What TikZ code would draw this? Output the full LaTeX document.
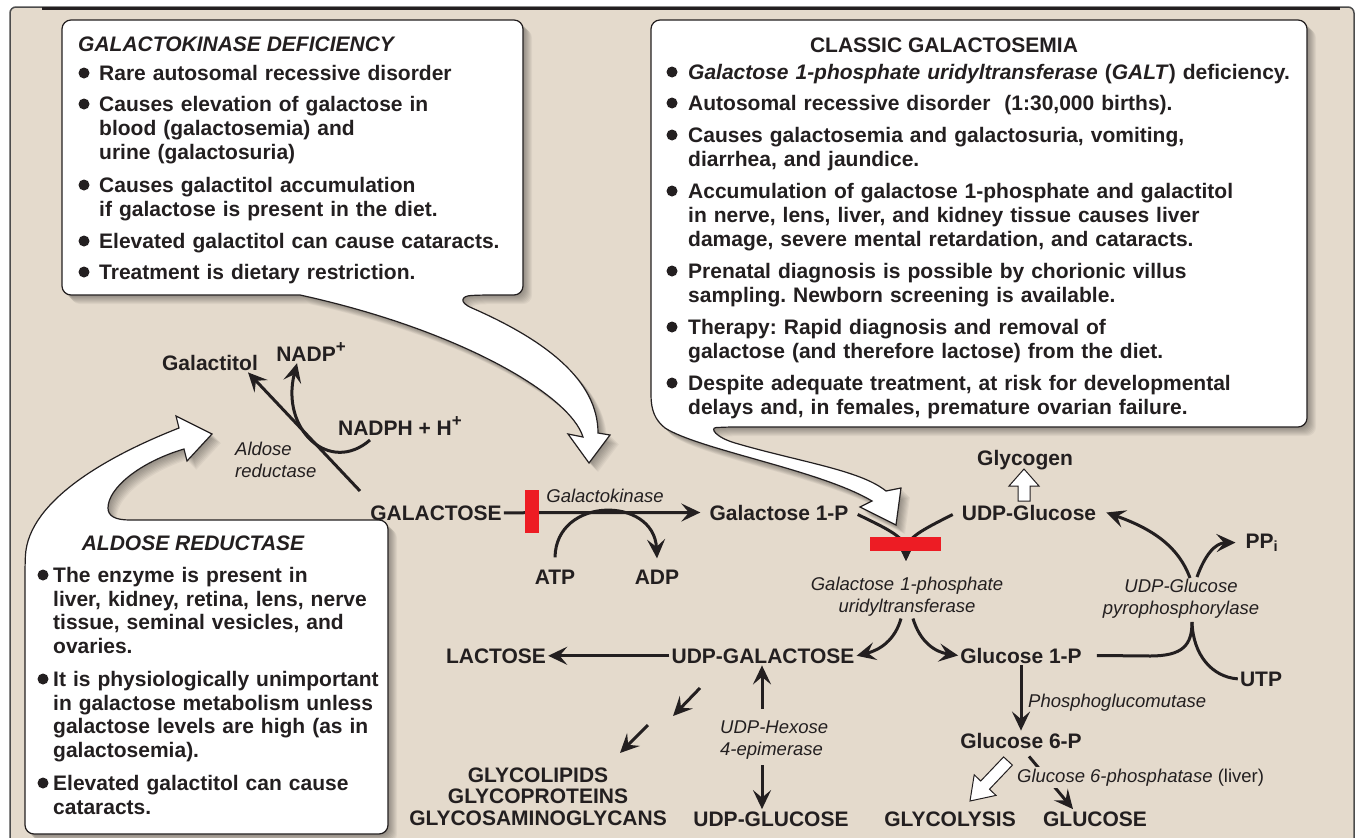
\documentclass[tikz,border=0pt]{standalone}
\usepackage{fontspec}
\setmainfont{Liberation Sans}
\usetikzlibrary{arrows.meta}
\frenchspacing

\definecolor{ink}{HTML}{231F20}
\definecolor{sand}{HTML}{E4DACC}
\definecolor{stopred}{HTML}{ED1C24}

\newcommand{\plus}{\raisebox{0.42em}{\fontsize{17}{17}\selectfont+}}

\tikzset{
  lbl/.style={anchor=base, inner sep=2pt, text=ink, font=\fontsize{21}{21.5}\selectfont\bfseries},
  enz/.style={anchor=base, inner sep=2pt, text=ink, font=\fontsize{18.5}{22.5}\selectfont\itshape},
  itm/.style={anchor=base west, inner sep=0pt, align=left, text=ink, font=\fontsize{21}{24}\selectfont\bfseries},
  arr/.style={draw=ink, line width=3pt, -{Stealth[length=19pt,width=18pt,inset=7.5pt]}},
  pln/.style={draw=ink, line width=3pt},
  redbar/.style={fill=stopred, inner sep=0pt},
  bubble/.style={fill=white, draw=ink, line width=1.2pt},
  blockarr/.style={fill=white, draw=ink, line width=1pt},
}

% callout outlines (box + tail)
\newcommand{\kinbubble}{[rounded corners=9pt] (62,160) -- (62,20) -- (523,20) -- (523,295) -- (480,295)
  [sharp corners] .. controls (462,296) and (458,302) .. (472,308) .. controls (545,340) and (598,380) .. (598,433)
  -- (610,435) -- (589,463) -- (568,434) -- (583,437) .. controls (570,395) and (460,330) .. (300,295)
  [rounded corners=9pt] -- (62,295) -- cycle}
\newcommand{\galtbubble}{[rounded corners=9pt] (651,200) -- (651,20) -- (1307,20) -- (1307,427) -- (725,427)
  [sharp corners] .. controls (710,428) and (715,437) .. (735,443) .. controls (800,462) and (860,470) .. (886,491)
  -- (901,488) -- (896,525) -- (860,507) -- (872,501) .. controls (820,470) and (700,450) .. (665,428)
  .. controls (655,420) and (651,410) .. (651,395) -- cycle}
\newcommand{\aldbubble}{[rounded corners=9pt] (200,520) -- (388,520) -- (388,834) -- (25,834) -- (25,565)
  [sharp corners] .. controls (28,500) and (110,455) .. (179,428) -- (176,416) -- (212,434) -- (187,461)
  -- (184,449) .. controls (140,462) and (108,488) .. (108,508) .. controls (108,516) and (115,520) .. (130,520) -- cycle}

\begin{document}
\begin{tikzpicture}[x=1pt,y=-1pt]
  \useasboundingbox (0,0) rectangle (1363,838);
  % frame
  \fill[sand, rounded corners=6pt] (10,7) rectangle (1354,870);
  \draw[gray!60!black, line width=1.5pt, rounded corners=6pt] (10,870) -- (10,7) -- (1354,7) -- (1354,870);
  \draw[ink, line width=3pt] (42,8) -- (1340,8);

  % callouts with soft shadow
  \foreach \s in {1,...,9}{
    \fill[black, opacity=0.045, xshift=\s pt, yshift=-\s pt] \kinbubble;
    \fill[black, opacity=0.045, xshift=\s pt, yshift=-\s pt] \galtbubble;
    \fill[black, opacity=0.045, xshift=\s pt, yshift=-\s pt] \aldbubble;
  }
  \path[bubble] \kinbubble;
  \path[bubble] \galtbubble;
  \path[bubble] \aldbubble;

  % galactokinase deficiency
  \node[itm, font=\fontsize{21}{24}\selectfont\bfseries\itshape] (kintitle) at (78,51.5) {GALACTOKINASE DEFICIENCY};
  \foreach \y/\t [count=\i] in {80.5/{Rare autosomal recessive disorder},
      111.5/{Causes elevation of galactose in\\blood (galactosemia) and\\urine (galactosuria)},
      192.5/{Causes galactitol accumulation\\if galactose is present in the diet.},
      248.5/{Elevated galactitol can cause cataracts.},
      279.5/{Treatment is dietary restriction.}}{
    \fill[ink] (84,\y-7.5) circle (5.5pt);
    \node[itm, text width=420] (kin\i) at (99,\y) {\t};
  }

  % classic galactosemia
  \node[lbl] (clstitle) at (944,52.5) {CLASSIC GALACTOSEMIA};
  \foreach \y/\t [count=\i] in {79.5/{\textit{Galactose 1-phosphate uridyltransferase} (\textit{GALT}) deficiency.},
      110.5/{Autosomal recessive disorder\ \ (1:30,000 births).},
      142.5/{Causes galactosemia and galactosuria, vomiting,\\diarrhea, and jaundice.},
      198.5/{Accumulation of galactose 1-phosphate and galactitol\\in nerve, lens, liver, and kidney tissue causes liver\\damage, severe mental retardation, and cataracts.},
      278.5/{Prenatal diagnosis is possible by chorionic villus\\sampling. Newborn screening is available.},
      334.5/{Therapy: Rapid diagnosis and removal of\\galactose (and therefore lactose) from the diet.},
      390.5/{Despite adequate treatment, at risk for developmental\\delays and, in females, premature ovarian failure.}}{
    \fill[ink] (672,\y-7.5) circle (5.5pt);
    \node[itm, text width=610] (cls\i) at (688,\y) {\t};
  }

  % aldose reductase
  \node[lbl, font=\fontsize{21}{24}\selectfont\bfseries\itshape] (aldtitle) at (193,550.5) {ALDOSE REDUCTASE};
  \foreach \y/\t [count=\i] in {582.5/{The enzyme is present in\\liver, kidney, retina, lens, nerve\\tissue, seminal vesicles, and\\ovaries.},
      686.5/{It is physiologically unimportant\\in galactose metabolism unless\\galactose levels are high (as in\\galactosemia).},
      790.5/{Elevated galactitol can cause\\cataracts.}}{
    \fill[ink] (43,\y-7.5) circle (5.5pt);
    \node[itm, text width=340, font=\fontsize{21}{23.7}\selectfont\bfseries] (ald\i) at (53,\y) {\t};
  }

  % pathway labels
  \node[lbl] (gal) at (436,520) {GALACTOSE};
  \node[lbl] (galtol) at (210,370) {Galactitol};
  \node[lbl] (nadp) at (311,361) {NADP\plus};
  \node[lbl] (nadph) at (400,435) {NADPH + H\plus};
  \node[enz, anchor=base west, text width=90, align=left] (aldr) at (233,455) {Aldose\\reductase};
  \node[enz] (gk) at (605,502) {Galactokinase};
  \node[lbl] (atp) at (555,584) {ATP};
  \node[lbl] (adp) at (657,584) {ADP};
  \node[lbl] (g1p) at (779,520) {Galactose 1-P};
  \node[lbl] (udpglc) at (1029,520) {UDP-Glucose};
  \node[lbl] (glycogen) at (1025,465) {Glycogen};
  \node[enz, text width=200, align=center] (galt) at (907,590) {Galactose 1-phosphate\\uridyltransferase};
  \node[lbl] (udpgal) at (763,663) {UDP-GALACTOSE};
  \node[lbl] (lactose) at (496,663) {LACTOSE};
  \node[lbl] (glc1p) at (1021,663) {Glucose 1-P};
  \node[enz, text width=170, align=center] (ppase) at (1181,592) {UDP-Glucose\\pyrophosphorylase};
  \node[lbl] (ppi) at (1262,548) {PP\textsubscript{i}};
  \node[lbl] (utp) at (1261,686) {UTP};
  \node[enz, anchor=base west] (pgm) at (1026,707) {Phosphoglucomutase};
  \node[lbl] (glc6p) at (1021,748) {Glucose 6-P};
  \node[lbl] (glycolysis) at (950,826) {GLYCOLYSIS};
  \node[lbl] (glucose) at (1095,826) {GLUCOSE};
  \node[lbl] (udpglc2) at (771,826) {UDP-GLUCOSE};
  \node[lbl, text width=280, align=center] (glyco) at (538,782) {GLYCOLIPIDS\\GLYCOPROTEINS\\GLYCOSAMINOGLYCANS};
  \node[enz, anchor=base west, text width=120, align=left] (epi) at (718,733) {UDP-Hexose\\4-epimerase};

  % free ends
  \coordinate (aldst) at (360,491);
  \coordinate (nh) at (370,440);
  \coordinate (galtv) at (906,561);
  \coordinate (pyrj) at (1192,622);
  \coordinate (pyrt) at (1190,578);
  \coordinate (ppt) at (1197,577);
  \coordinate (epiu) at (762,709);
  \coordinate (epid) at (762,765);
  \coordinate (d1) at (700,688);
  \coordinate (d2) at (673,716);
  \coordinate (d3) at (648,725);
  \coordinate (d4) at (620,753);

  % reactions
  \draw[arr] (aldst) -- ([xshift=-12pt]galtol.south east);
  \draw[arr] (nh) .. controls (330,475) and (280,430) .. ([xshift=-14pt]nadp.south);
  \draw[arr] (gal.east) -- ([xshift=-7pt]g1p.west);
  \draw[arr] ([yshift=10pt]atp.north) .. controls (556,496) and (654,496) .. ([yshift=9pt]adp.north);
  \draw[arr] ([xshift=7pt,yshift=-2pt]g1p.east) .. controls (890,530) and (906,538) .. (galtv);
  \draw[arr] ([xshift=-7pt,yshift=-2pt]udpglc.west) .. controls (922,530) and (906,538) .. (galtv);
  \draw[arr] ([xshift=-6pt]galt.south) .. controls (895,640) and (880,650) .. (udpgal.east);
  \draw[arr] ([xshift=6pt]galt.south) .. controls (920,642) and (935,652) .. (glc1p.west);
  \draw[arr] (udpgal.west) -- (lactose.east);
  \draw[arr] (d1) -- (d2);
  \draw[arr] (d3) -- (d4);
  \draw[arr] (epiu) -- (epiu |- udpgal.south);
  \draw[arr] (epid) -- (epid |- udpglc2.north);
  \draw[pln] ([xshift=13pt]glc1p.east) -- (1150,656) .. controls (1183,656) and (1192,645) .. (pyrj);
  \draw[pln] (pyrj) .. controls (1193,655) and (1212,677) .. (utp.west);
  \draw[arr] (pyrt) .. controls (1178,545) and (1150,528) .. ([xshift=8pt]udpglc.east);
  \draw[arr] (ppt) .. controls (1205,555) and (1215,543) .. ([xshift=-8pt]ppi.west);
  \draw[arr] (glc1p.south) -- (glc6p.north);
  \draw[arr] ([xshift=8pt,yshift=-6pt]glc6p.south) -- ([xshift=-22pt]glucose.north);
  \node[enz, anchor=base west, fill=sand] (g6pase) at (1015,782) {Glucose 6-phosphatase \textup{(liver)}};

  % block arrows
  \draw[blockarr] (1018,501) -- (1018,486) -- (1009,486) -- (1024,469) -- (1039,486) -- (1030,486) -- (1030,501) -- cycle;
  \draw[blockarr] (1003.6,756.9) -- (980.7,781) -- (974.2,774.8) -- (970,801) -- (996,795.4) -- (989.5,789.2) -- (1012.4,765.1) -- cycle;

  % blocked steps
  \node[redbar, minimum width=14pt, minimum height=43pt] (blk1) at (532,511.5) {};
  \node[redbar, minimum width=71pt, minimum height=14pt] (blk2) at (905.5,544) {};
\end{tikzpicture}
\end{document}
